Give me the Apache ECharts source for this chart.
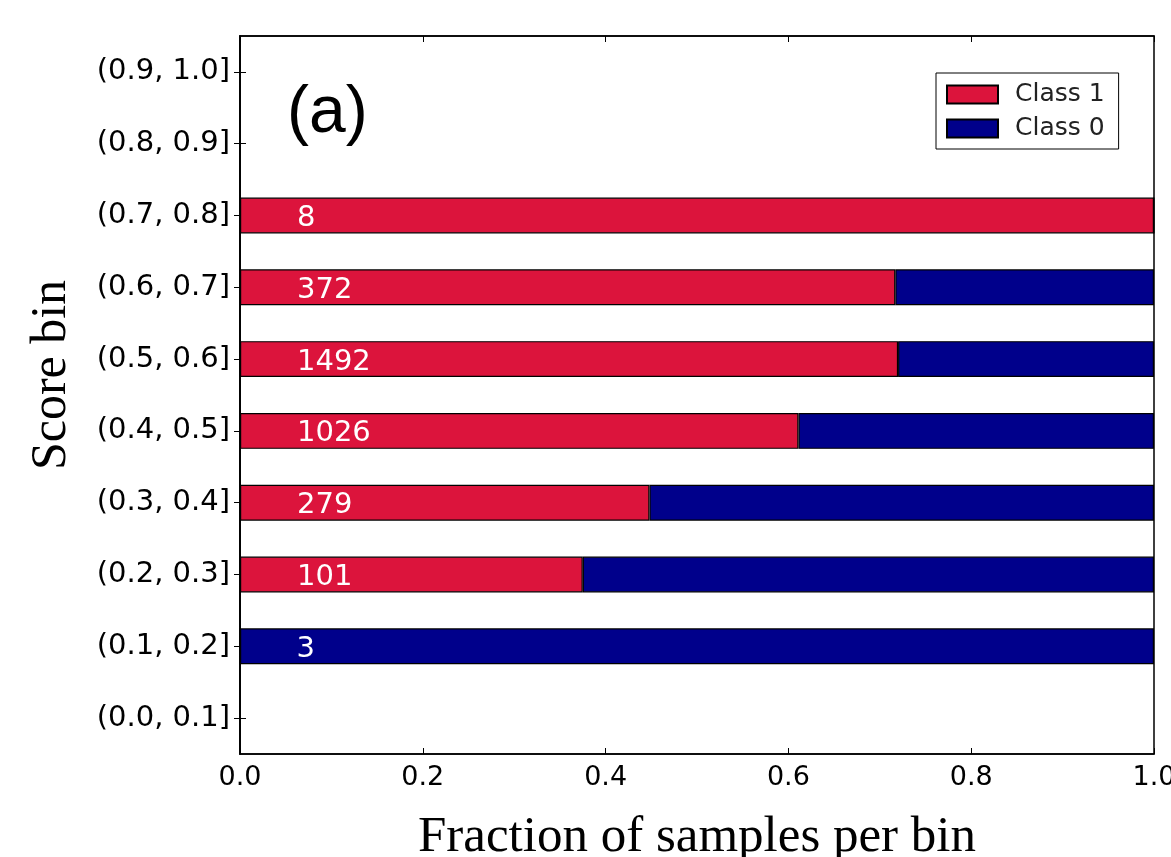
<!DOCTYPE html>
<html>
<head>
<meta charset="utf-8">
<script src="https://cdn.jsdelivr.net/npm/echarts@6/dist/echarts.min.js"></script>
<style>
html,body{margin:0;padding:0;background:#fff;}
#chart{width:1171px;height:857px;}
</style>
</head>
<body>
<div id="chart"></div>
<script>
var categories = ['(0.0, 0.1]','(0.1, 0.2]','(0.2, 0.3]','(0.3, 0.4]','(0.4, 0.5]','(0.5, 0.6]','(0.6, 0.7]','(0.7, 0.8]','(0.8, 0.9]','(0.9, 1.0]'];
var class1 = [null, 0, 0.375, 0.448, 0.611, 0.72, 0.717, 1.0, null, null];
var class0 = [null, 1.0, 0.625, 0.552, 0.389, 0.28, 0.283, 0, null, null];
var counts = [null, 3, 101, 279, 1026, 1492, 372, 8, null, null];
var xTicks = [0, 0.2, 0.4, 0.6, 0.8, 1.0];

var chart = echarts.init(document.getElementById('chart'));
var sans = 'DejaVu Sans';
var serif = 'Liberation Serif';
chart.setOption({
  animation: false,
  backgroundColor: '#ffffff',
  grid: {left: 240, right: 17, top: 36, bottom: 103, show: true, borderColor: '#000', borderWidth: 1.5,
    backgroundColor: 'transparent', containLabel: false, outerBoundsMode: 'none'},
  legend: {
    data: ['Class 1', 'Class 0'],
    orient: 'vertical',
    left: 936, top: 73,
    padding: [9, 14, 8, 10],
    itemWidth: 51, itemHeight: 18, itemGap: 9,
    borderColor: '#000', borderWidth: 1, borderRadius: 0,
    backgroundColor: '#fff',
    textStyle: {fontFamily: sans, fontSize: 25, color: '#222', padding: [0, 0, 0, 12]},
    icon: 'rect'
  },
  graphic: [{
    type: 'text', left: 287, top: 81,
    style: {text: '(a)', font: '66px "Liberation Sans"', fill: '#000'}
  }, {
    type: 'text', x: 52, y: 375, rotation: Math.PI / 2,
    style: {text: 'Score bin', font: '50px "Liberation Serif"', fill: '#000', textAlign: 'center', textVerticalAlign: 'middle'}
  }],
  xAxis: [{
    type: 'value', min: 0, max: 1, interval: 0.2,
    axisLine: {show: true, lineStyle: {color: '#000', width: 1.5}},
    axisTick: {show: true, inside: true, length: 6, lineStyle: {color: '#000'}},
    splitLine: {show: false},
    axisLabel: {fontFamily: sans, fontSize: 27, color: '#000', margin: 10,
      formatter: function (v) { return v.toFixed(1); }},
    name: 'Fraction of samples per bin', nameLocation: 'middle', nameGap: 58,
    nameTextStyle: {fontFamily: serif, fontSize: 51, color: '#000'}
  }, {
    type: 'value', min: 0, max: 1, interval: 0.2, position: 'top',
    axisLine: {show: true, lineStyle: {color: '#000', width: 1.5}},
    axisTick: {show: true, inside: true, length: 6, lineStyle: {color: '#000'}},
    splitLine: {show: false}, axisLabel: {show: false}
  }],
  yAxis: [{
    type: 'category', data: categories,
    axisLine: {show: true, lineStyle: {color: '#000', width: 1.5}},
    axisTick: {show: true, inside: true, length: 6, alignWithLabel: true, lineStyle: {color: '#000'}},
    axisLabel: {fontFamily: sans, fontSize: 29, color: '#000', margin: 10, padding: [4, 0, 0, 0]}
  }, {
    type: 'category', data: categories, position: 'right',
    axisLine: {show: true, lineStyle: {color: '#000', width: 1.5}},
    axisTick: {show: true, inside: true, length: 6, alignWithLabel: true, lineStyle: {color: '#000'}},
    axisLabel: {show: false}
  }],
  series: [{
    name: 'Class 1', type: 'bar', stack: 'total', barWidth: '50%',
    data: class1,
    itemStyle: {color: '#DC143C', borderColor: '#000', borderWidth: 1.2},
    label: {
      show: true, position: [57, '58%'], align: 'left', verticalAlign: 'middle',
      color: '#fff', fontFamily: sans, fontSize: 29,
      formatter: function (p) { var c = counts[p.dataIndex]; return c == null ? '' : String(c); }
    },
    z: 3
  }, {
    name: 'Class 0', type: 'bar', stack: 'total', barWidth: '50%',
    data: class0,
    itemStyle: {color: '#00008B', borderColor: '#000', borderWidth: 1.2},
    z: 2
  }]
});
</script>
</body>
</html>
